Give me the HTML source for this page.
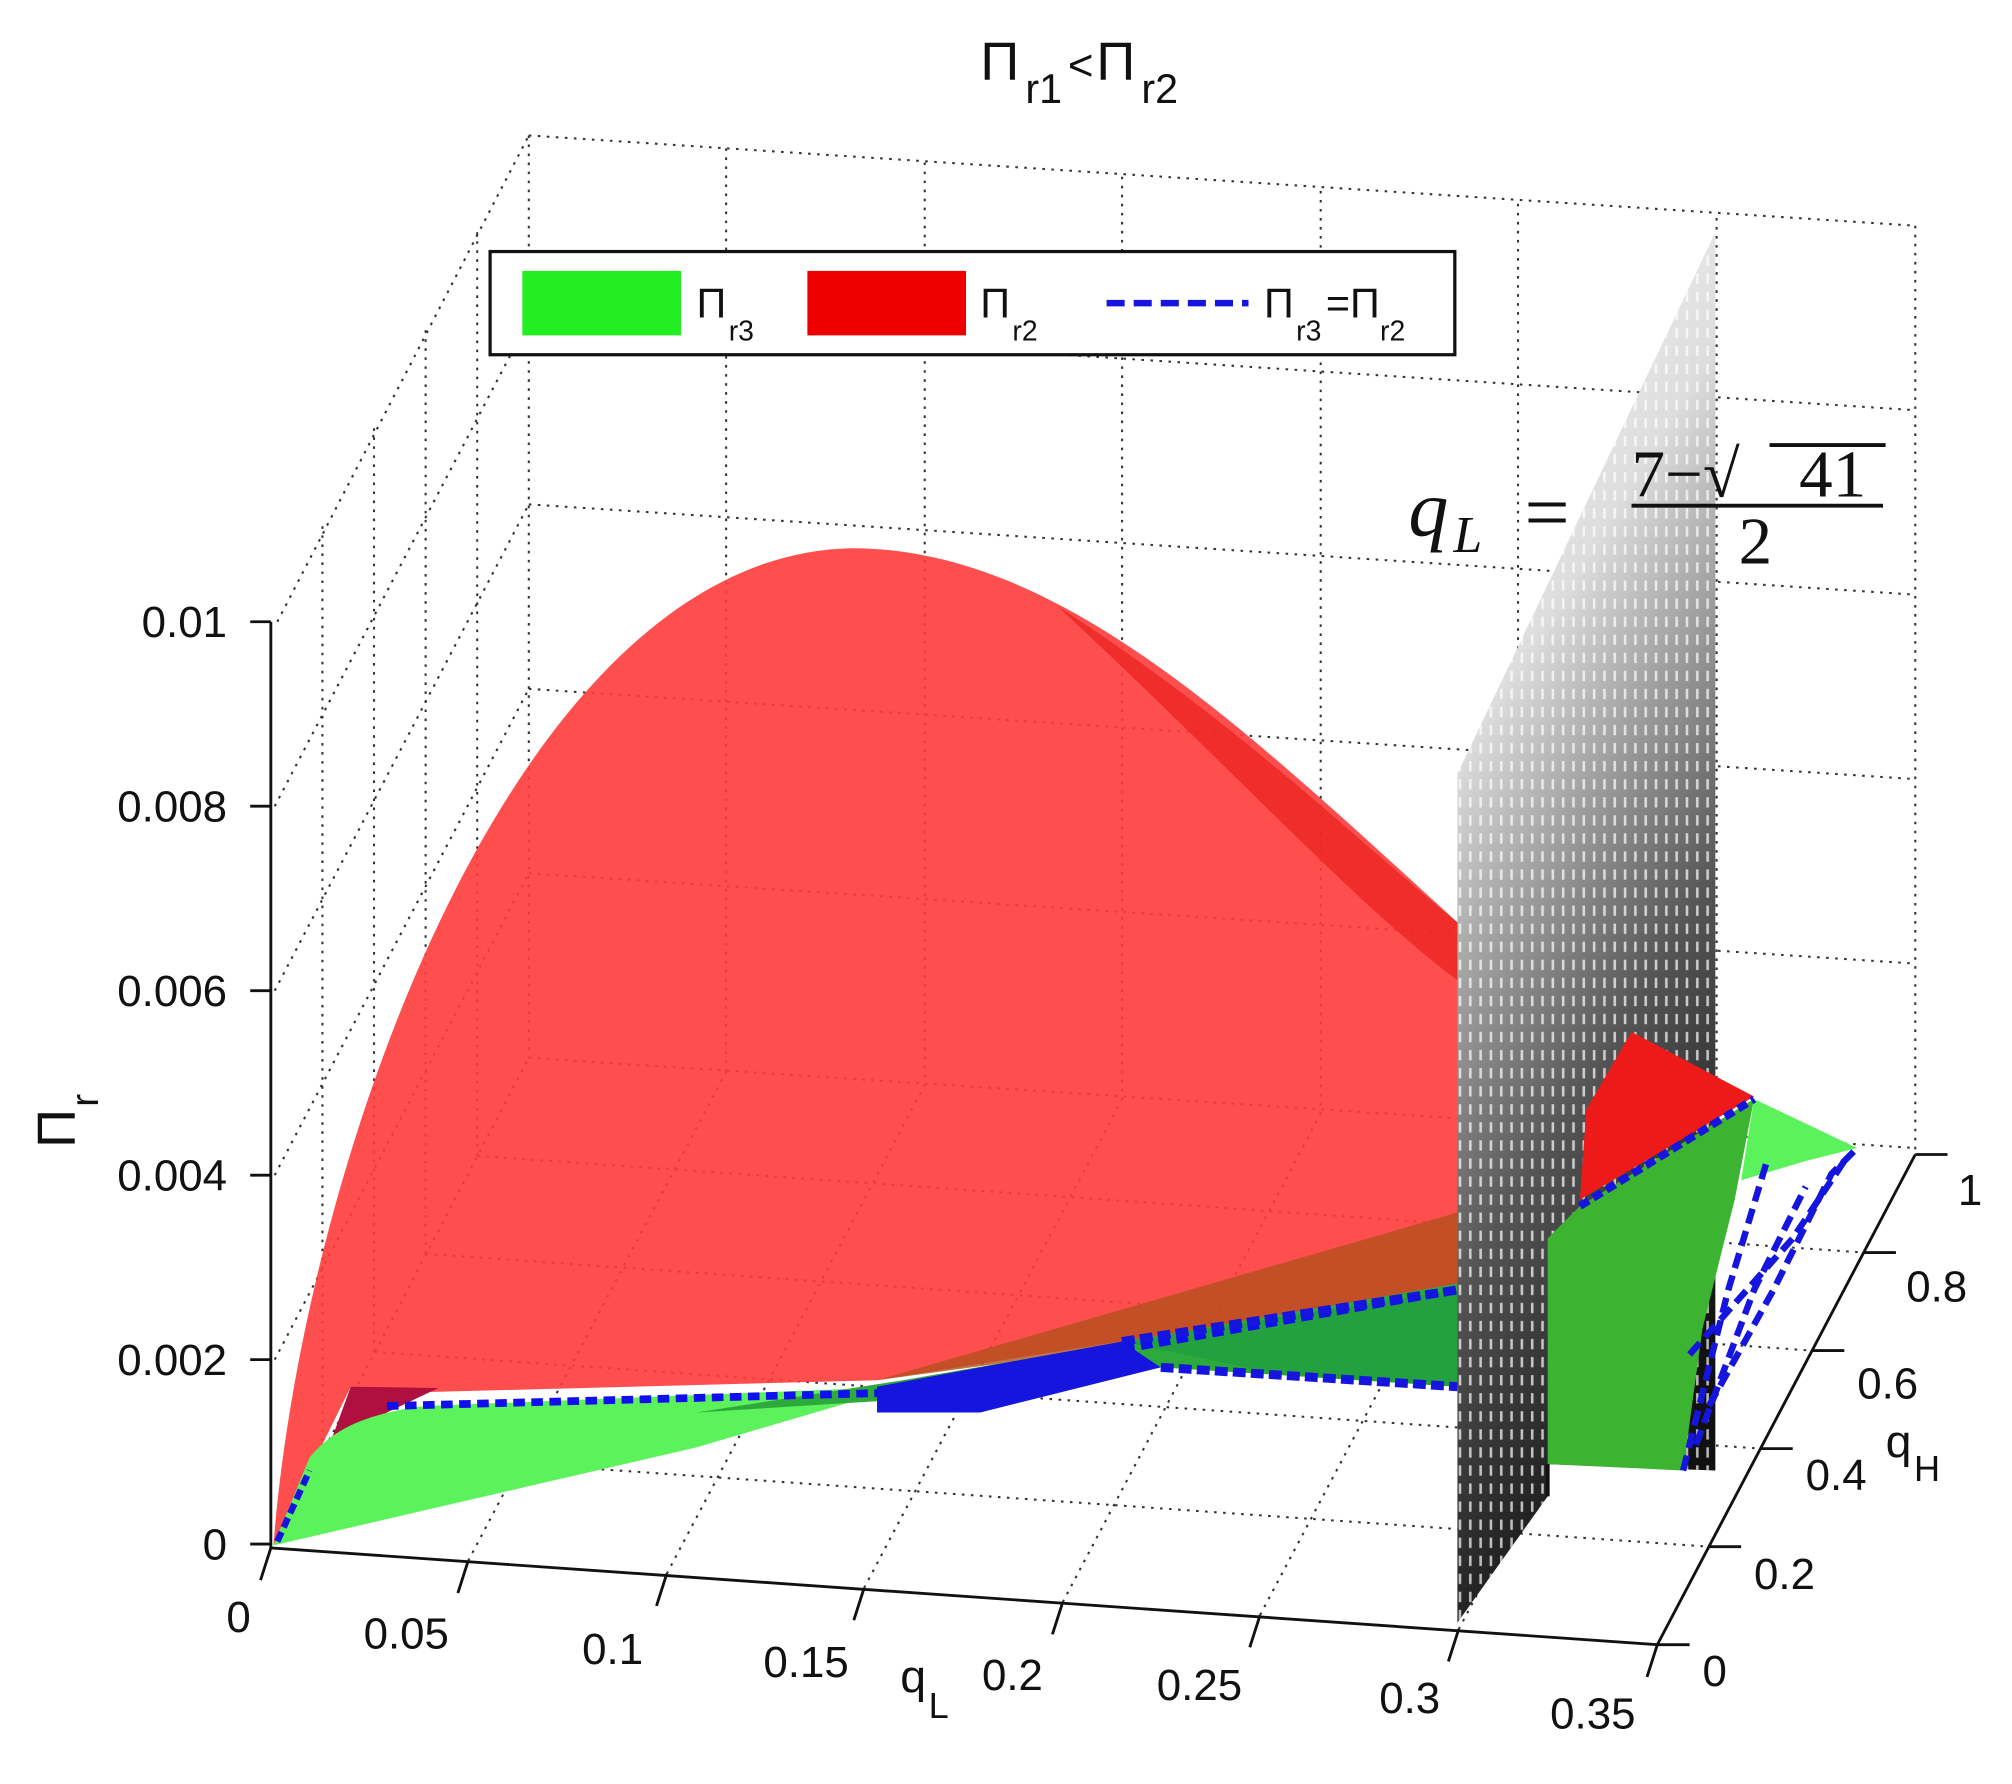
<!DOCTYPE html>
<html><head><meta charset="utf-8"><style>
html,body{margin:0;padding:0;background:#fff;}
svg{display:block;}
text{font-family:"Liberation Sans",sans-serif;fill:#111;}
</style></head><body>
<svg width="2012" height="1784" viewBox="0 0 1560 1383" preserveAspectRatio="none" xmlns="http://www.w3.org/2000/svg">
<defs>
<linearGradient id="gp" x1="0" y1="0" x2="0.3" y2="1">
<stop offset="0" stop-color="#fff"/>
<stop offset="0.35" stop-color="#ddd"/>
<stop offset="0.7" stop-color="#555"/>
<stop offset="1" stop-color="#111"/>
</linearGradient>
<pattern id="dash" width="8" height="14" patternUnits="userSpaceOnUse">
<rect x="3" y="2" width="2" height="8" fill="#fff" opacity="0.7"/>
</pattern>
</defs>
<rect width="1560" height="1383" fill="#fff"/>
<text x="760" y="62" font-size="42">Π</text><text x="795" y="80" font-size="32">r1</text><text x="828" y="62" font-size="34">&lt;</text><text x="850" y="62" font-size="42">Π</text><text x="885" y="80" font-size="32">r2</text>

<g stroke="#333" stroke-width="1.6" stroke-dasharray="2,5" fill="none">
<path d="M410,105L1485,175M410,248L1485,318M410,391L1485,461M410,534L1485,604M410,677L1485,747M410,820L1485,890"/>
<path d="M563,115V831M717,126V841M870,137V852M1024,148V863M1177,158V874M1331,169V885M1485,175V895"/>
<path d="M410,105V820"/>
<path d="M215,482L410,105M213,625L410,248M213,768L410,391M213,911L410,534M213,1054L410,677M213,1197L410,820"/>
<path d="M250,1124V406M290,1048V330M330,972V254M370,896V178"/>
<path d="M363,1210L563,831M517,1220L717,841M670,1231L870,852M824,1242L1024,863M977,1252L1177,874M1131,1263L1331,885"/>
<path d="M250,1124L1325,1199M290,1048L1365,1123M330,972L1405,1047M370,896L1445,971"/>
</g>

<path d="M212,1198 C235,900 400,430 660,425 C820,425 960,560 1130,715 L1230,800 L1230,940 L1130,1000 L900,1035 L680,1070 L300,1080 L272,1075 L235,1150 Z" fill="#ff3b3b" opacity="0.9"/>
<path d="M820,470 C960,560 1050,650 1130,715 L1130,760 C1050,700 960,600 820,470Z" fill="#e8201c" opacity="0.7"/>
<path d="M680,1070 L1130,940 L1130,1000 L900,1040Z" fill="#b4501e" opacity="0.8"/>
<path d="M272,1075 L340,1076 L300,1095 L250,1135Z" fill="#b01040"/>
<path d="M212,1198 L240,1130 C260,1105 290,1095 330,1090 L700,1075 L540,1122 Z" fill="#5cf25c"/>
<path d="M540,1095 L700,1070 L1130,995 L1130,1075 L900,1060 L700,1085 Z" fill="#2eaa3c"/>
<path d="M870,1040 L1130,1000 L1130,1075 L990,1065Z" fill="#23a040"/>
<path d="M300,1090 L680,1080 L1130,1000" stroke="#1010ee" stroke-width="6" stroke-dasharray="9,5" fill="none"/>
<path d="M680,1075 L760,1060 L870,1040 L900,1060 L760,1095 L680,1095Z" fill="#1515dd"/>
<path d="M870,1040 L1130,1000 M900,1060 L1130,1075" stroke="#1515dd" stroke-width="7" stroke-dasharray="10,4" fill="none"/>
<path d="M215,1195 L240,1140" stroke="#1515dd" stroke-width="5" stroke-dasharray="8,4"/>

<path d="M1130,600 L1330,180 L1330,1140 L1200,1135 L1200,1160 L1130,1258Z" fill="url(#gp)"/>
<path d="M1130,600 L1330,180 L1330,1140 L1200,1135 L1200,1160 L1130,1258Z" fill="url(#dash)"/>

<path d="M1230,860 L1265,800 L1360,850 L1225,930Z" fill="#ee1a1a"/>
<path d="M1225,935 L1360,852 L1345,930 L1320,1030 L1305,1140 L1200,1135 L1200,960Z" fill="#3cb432"/>
<path d="M1360,852 L1440,890 L1400,900 L1350,915Z" fill="#5cf25c"/>
<path d="M1225,935 L1360,852" stroke="#1515dd" stroke-width="6" stroke-dasharray="8,4"/>
<g stroke="#1515dd" stroke-width="5" stroke-dasharray="12,6" fill="none">
<path d="M1305,1140 L1340,1000 L1370,900"/>
<path d="M1315,1120 L1360,1000 L1400,920"/>
<path d="M1325,1090 L1375,1000 L1420,910 L1440,890"/>
<path d="M1310,1050 L1390,960 L1430,900"/>
</g>
<path d="M1200,1135 V1160" stroke="#111" stroke-width="3"/>

<text x="1092" y="415" font-size="62" font-style="italic" style="font-family:'Liberation Serif',serif">q</text>
<text x="1127" y="428" font-size="40" font-style="italic" style="font-family:'Liberation Serif',serif">L</text>
<text x="1182" y="418" font-size="62" style="font-family:'Liberation Serif',serif">=</text>
<text x="1265" y="385" font-size="52" style="font-family:'Liberation Serif',serif">7−√</text>
<text x="1395" y="385" font-size="52" style="font-family:'Liberation Serif',serif">41</text>
<text x="1348" y="437" font-size="52" style="font-family:'Liberation Serif',serif">2</text>
<path d="M1265,392 H1460 M1372,345 H1462" stroke="#111" stroke-width="3"/>

<g stroke="#111" stroke-width="2.2" fill="none">
<path d="M210,482 V1200 L1285,1275 L1485,895"/>
<path d="M210,482h-16M210,625h-16M210,768h-16M210,911h-16M210,1054h-16M210,1197h-16"/>
<path d="M210,1200l-8,25M363,1210l-8,25M517,1220l-8,25M670,1231l-8,25M824,1242l-8,25M977,1252l-8,25M1131,1263l-8,25M1285,1275l-8,25"/>
<path d="M1285,1275h25M1325,1199h25M1365,1123h25M1405,1047h25M1445,971h25M1485,895h25"/>
</g>
<g font-size="34" text-anchor="end">
<text x="176" y="494">0.01</text><text x="176" y="637">0.008</text><text x="176" y="780">0.006</text><text x="176" y="923">0.004</text><text x="176" y="1066">0.002</text><text x="176" y="1209">0</text>
</g>
<g font-size="34" text-anchor="middle">
<text x="185" y="1265">0</text><text x="315" y="1278">0.05</text><text x="475" y="1290">0.1</text><text x="625" y="1300">0.15</text><text x="785" y="1310">0.2</text><text x="930" y="1318">0.25</text><text x="1093" y="1328">0.3</text><text x="1235" y="1340">0.35</text>
</g>
<g font-size="34">
<text x="1320" y="1307">0</text><text x="1360" y="1232">0.2</text><text x="1400" y="1155">0.4</text><text x="1440" y="1084">0.6</text><text x="1478" y="1009">0.8</text><text x="1518" y="934">1</text>
</g>
<text x="698" y="1312" font-size="36">q</text><text x="720" y="1332" font-size="28">L</text>
<text x="1462" y="1130" font-size="36">q</text><text x="1484" y="1148" font-size="28">H</text>
<g transform="translate(58,890) rotate(-90)"><text x="0" y="0" font-size="42">Π</text><text x="32" y="18" font-size="30">r</text></g>

<rect x="380" y="195" width="748" height="80" fill="#fff" stroke="#111" stroke-width="2.5"/>
<rect x="405" y="210" width="123" height="50" fill="#22ee22"/>
<rect x="626" y="210" width="123" height="50" fill="#ee0000"/>
<path d="M858,235 H968" stroke="#1515dd" stroke-width="5" stroke-dasharray="14,7"/>
<g font-size="32">
<text x="540" y="246">Π</text><text x="565" y="264" font-size="22">r3</text>
<text x="760" y="246">Π</text><text x="785" y="264" font-size="22">r2</text>
<text x="980" y="246">Π</text><text x="1005" y="264" font-size="22">r3</text><text x="1028" y="246">=Π</text><text x="1070" y="264" font-size="22">r2</text>
</g>
</svg>
</body></html>
